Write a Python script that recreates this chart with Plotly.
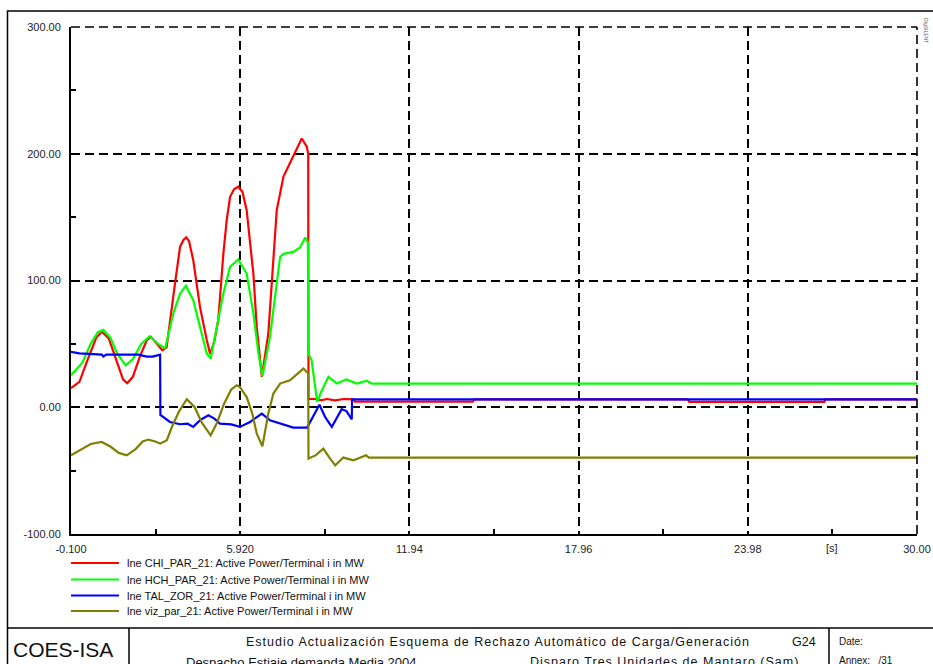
import plotly.graph_objects as go

# ---------------- data ----------------
chi_t = [-0.1, 0.2, 0.5, 0.8, 1.0, 1.25, 1.5, 1.75, 1.9, 2.1, 2.35, 2.6, 2.75, 2.95, 3.15, 3.3,
         3.42, 3.6, 3.78, 3.9, 4.0, 4.1, 4.25, 4.49, 4.73, 4.85, 5.0, 5.14, 5.32, 5.44, 5.56,
         5.7, 5.85, 6.0, 6.15, 6.39, 6.51, 6.69, 6.92, 7.1, 7.22, 7.46, 7.81, 8.11, 8.29, 8.34,
         8.35, 8.6, 8.8, 9.0, 9.3, 9.6, 9.95, 10.0, 14.2, 14.25, 21.85, 21.9, 26.7, 26.75, 30.0]
chi_v = [15, 20, 38, 55, 59.5, 54, 38, 22, 19, 24, 40, 53, 55.5, 50, 45, 47,
         68.7, 97.6, 126.5, 132, 134, 131, 116, 79, 53, 42, 52, 68.7, 121, 147.6, 166,
         172, 174, 170, 155.5, 105, 63, 24, 58, 121, 155.5, 182, 198, 212, 205.5, 200,
         6.5, 6.5, 5.5, 6.5, 5.5, 6.5, 6.2, 4.5, 4.5, 6.2, 6.2, 4.3, 4.3, 6.2, 6.2]

hch_t = [-0.1, 0.3, 0.6, 0.85, 1.05, 1.3, 1.55, 1.85, 2.1, 2.4, 2.7, 3.0, 3.25, 3.54, 3.78, 3.99,
         4.25, 4.49, 4.73, 4.87, 5.09, 5.32, 5.56, 5.85, 6.15, 6.39, 6.57, 6.71, 6.98, 7.16, 7.34,
         7.46, 7.81, 8.05, 8.23, 8.33, 8.35, 8.46, 8.55, 8.66, 8.8, 9.06, 9.36, 9.69, 10.07,
         10.42, 10.6, 30.0]
hch_v = [25.3, 35, 50, 59, 61, 55, 42, 33, 38, 50, 56, 50, 46.5, 74, 89.7, 95.8,
         84.5, 63.4, 42.4, 38.4, 63.4, 89.7, 110.7, 116.6, 105.5, 74, 42.4, 24.5, 55.5, 87, 118.6,
         121, 122.6, 126, 134, 130, 42, 37, 20, 4.2, 12, 24, 18.7, 22, 18.7,
         21, 18.7, 18.7]

tal_t = [-0.1, 0.2, 1.0, 1.05, 1.15, 2.3, 2.6, 2.8, 3.07, 3.08, 3.42, 3.78, 4.05, 4.25, 4.5,
         4.79, 5.0, 5.2, 5.6, 5.91, 6.27, 6.69, 6.98, 7.34, 7.81, 8.3, 8.4, 8.74, 8.95, 9.18,
         9.53, 9.7, 9.89, 9.9, 30.0]
tal_v = [43.7, 42.5, 41.5, 40, 41.5, 41.5, 40, 40, 41.5, -6, -11.6, -13.4, -13, -15.5, -10,
         -6.3, -9, -12.9, -13.5, -15.5, -11.6, -5, -10.3, -12.9, -16, -16, -12, 2, -8, -15.5,
         -1.5, -3, -9.5, 6.2, 6.2]

viz_t = [-0.1, 0.3, 0.6, 0.99, 1.3, 1.6, 1.88, 2.2, 2.45, 2.65, 2.9, 3.07, 3.31, 3.5, 3.75,
         4.02, 4.3, 4.55, 4.87, 5.1, 5.35, 5.6, 5.8, 5.91, 6.15, 6.35, 6.51, 6.71, 6.92, 7.1,
         7.34, 7.69, 7.99, 8.17, 8.34, 8.35, 8.6, 8.88, 9.1, 9.3, 9.59, 9.95, 10.4, 10.5, 30.0]
viz_v = [-37.9, -33, -29, -27.4, -31, -36, -37.9, -33, -27, -25.5, -27, -28.7, -26, -15, -3,
         6.3, 0, -12, -22.1, -12, 3, 14, 17.4, 16, 8, -5, -20.8, -30.8, -5, 10.8,
         18.7, 21.3, 26.6, 30.5, 26.6, -40.5, -38, -32.6, -40, -45.8, -39.7, -41.8, -37.9, -39.7, -39.7]

series_names = ["lne CHI_PAR_21: Active Power/Terminal i in MW",
                "lne HCH_PAR_21: Active Power/Terminal i in MW",
                "lne TAL_ZOR_21: Active Power/Terminal i in MW",
                "lne viz_par_21: Active Power/Terminal i in MW"]
series_colors = ["#ff0000", "#00ff00", "#0000ff", "#808000"]

x_ticks = [-0.1, 5.92, 11.94, 17.96, 23.98, 30.0]
x_tick_labels = ["-0.100", "5.920", "11.94", "17.96", "23.98", "30.00"]
x_minor = [2.91, 8.93, 14.95, 20.97, 26.99]
y_ticks = [-100, 0, 100, 200, 300]
y_tick_labels = ["-100.00", "0.00", "100.00", "200.00", "300.00"]
y_minor = [-50, 50, 150, 250]

# ---------------- figure ----------------
W, H = 933, 664
L, T = 71, 27
R = W - 917
B = H - 534
PW, PH = W - L - R, H - T - B

def px(xp):
    """page x pixel -> paper fraction"""
    return (xp - L) / PW

def py(yp):
    """page y pixel -> paper fraction"""
    return (H - B - yp) / PH

FONT = "Liberation Sans, Arial, sans-serif"
GRID = dict(color="black", width=1.6, dash="9px,5px")

fig = go.Figure()
data = [(chi_t, chi_v), (hch_t, hch_v), (tal_t, tal_v), (viz_t, viz_v)]
for (t, v), name, col in zip(data, series_names, series_colors):
    fig.add_trace(go.Scatter(x=t, y=v, mode="lines", name=name,
                             line=dict(color=col, width=2.2), showlegend=False))

fig.update_layout(
    width=W, height=H,
    margin=dict(l=L, r=R, t=T, b=B, pad=0, autoexpand=False),
    paper_bgcolor="white", plot_bgcolor="white",
    font=dict(family=FONT, size=11, color="#222222"),
)
fig.update_xaxes(range=[x_ticks[0], x_ticks[-1]], tickvals=x_ticks, ticktext=x_tick_labels,
                 showgrid=True, gridcolor="black", gridwidth=1.6, griddash="9px,5px",
                 zeroline=False, showline=True, linecolor="black", linewidth=2,
                 ticks="", ticklabelstandoff=4, automargin=False,
                 ticklabeloverflow="allow",
                 minor=dict(tickvals=x_minor, ticks="inside", ticklen=5,
                            tickwidth=1.5, tickcolor="black", showgrid=False))
fig.update_yaxes(range=[y_ticks[0], y_ticks[-1]], tickvals=y_ticks, ticktext=y_tick_labels,
                 showgrid=True, gridcolor="black", gridwidth=1.6, griddash="9px,5px",
                 zeroline=False, showline=True, linecolor="black", linewidth=2,
                 ticks="", ticklabelstandoff=6, automargin=False,
                 minor=dict(tickvals=y_minor, ticks="inside", ticklen=5,
                            tickwidth=1.5, tickcolor="black", showgrid=False))

shapes = []
annotations = []

# dashed grid lines on the top and right edges of the plot area
shapes.append(dict(type="line", xref="paper", yref="paper", x0=0, x1=1, y0=1, y1=1,
                   line=GRID, layer="above"))
shapes.append(dict(type="line", xref="paper", yref="paper", x0=1, x1=1, y0=0, y1=1,
                   line=GRID, layer="above"))

# unit label on x axis
annotations.append(dict(x=x_minor[-1], y=py(548), xref="x", yref="paper", text="[s]",
                        showarrow=False, font=dict(size=11, color="#222222"),
                        xanchor="center", yanchor="middle"))

# custom legend
leg_y = [563, 579.5, 595.5, 611]
for name, col, yy in zip(series_names, series_colors, leg_y):
    shapes.append(dict(type="line", xref="paper", yref="paper", x0=px(71), x1=px(119),
                       y0=py(yy), y1=py(yy), line=dict(color=col, width=2)))
    annotations.append(dict(x=px(125), y=py(yy), xref="paper", yref="paper", text=name,
                            showarrow=False, xanchor="left", yanchor="middle",
                            font=dict(size=11, color="#111111")))

# outer frame and footer boxes
shapes.append(dict(type="rect", xref="paper", yref="paper", x0=px(7.5), x1=px(945),
                   y0=py(690), y1=py(11), line=dict(color="black", width=1.5)))
shapes.append(dict(type="line", xref="paper", yref="paper", x0=px(7.5), x1=px(945),
                   y0=py(628), y1=py(628), line=dict(color="black", width=1.5)))
shapes.append(dict(type="line", xref="paper", yref="paper", x0=px(129), x1=px(129),
                   y0=py(628), y1=py(690), line=dict(color="black", width=1.5)))
shapes.append(dict(type="line", xref="paper", yref="paper", x0=px(829), x1=px(829),
                   y0=py(628), y1=py(690), line=dict(color="black", width=1.5)))

SP = '<span style="letter-spacing:1px">{}</span>'
footer = [
    ("COES-ISA", 11, 649, 21),
    (SP.format("Estudio Actualización Esquema de Rechazo Automático de Carga/Generación"),
     244, 642, 12.5),
    ("G24", 790, 642, 12.5),
    ("Despacho Estiaje demanda Media 2004", 184, 662, 13),
    (SP.format("Disparo Tres Unidades de Mantaro (Sam)"), 528, 662, 12.5),
    ("Date:", 837, 641, 10),
    ("Annex:   /31", 837, 660, 10),
]
for txt, xx, yy, sz in footer:
    annotations.append(dict(x=px(xx), y=py(yy), xref="paper", yref="paper", text=txt,
                            showarrow=False, xanchor="left", yanchor="middle",
                            font=dict(size=sz, family=FONT, color="#111111")))

# tiny rotated program mark at the top right
annotations.append(dict(x=px(926), y=py(30), xref="paper", yref="paper", text="DIgSILENT",
                        showarrow=False, textangle=90, xanchor="center", yanchor="middle",
                        font=dict(size=5, color="#555555")))

fig.update_layout(shapes=shapes, annotations=annotations)
fig.write_html("out.html",
               config={"displayModeBar": False},
               post_script="document.body.style.margin='0';"
                           "document.body.style.overflow='hidden';")
